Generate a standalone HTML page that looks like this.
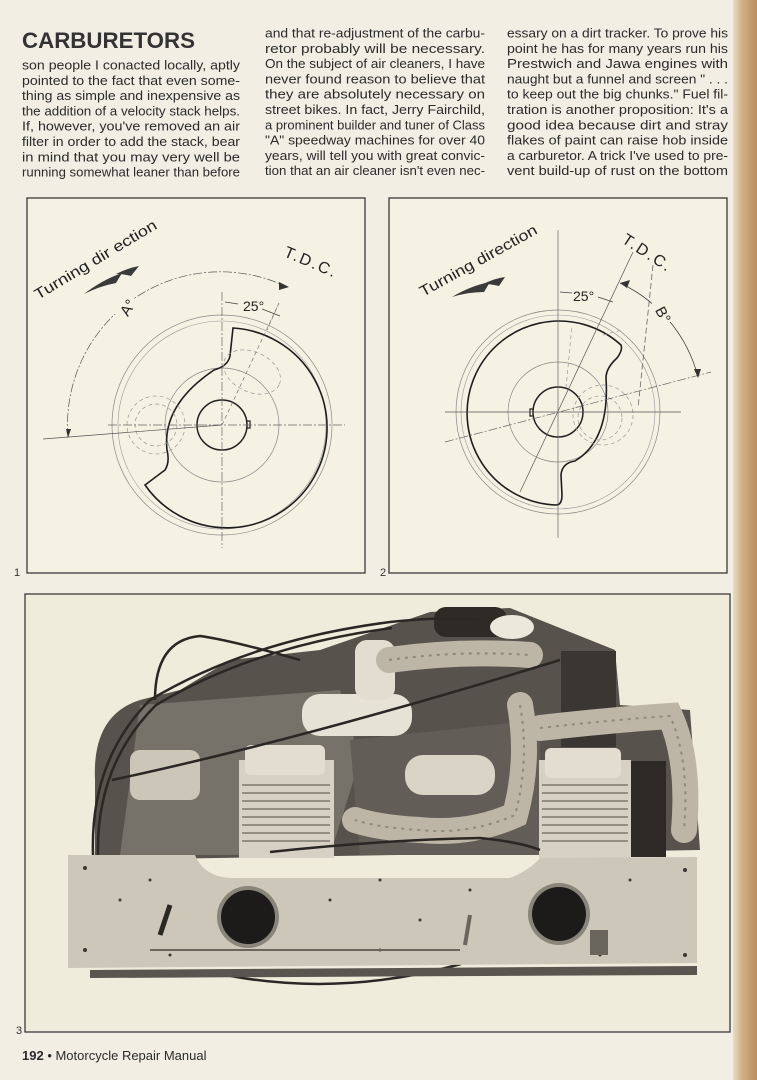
<!DOCTYPE html>
<html><head><meta charset="utf-8"><style>
html,body{margin:0;padding:0;background:#f2eee4;}
svg{display:block}
</style></head><body>
<svg width="757" height="1080" viewBox="0 0 757 1080" xmlns="http://www.w3.org/2000/svg" font-family="Liberation Sans, sans-serif">
<defs>
<linearGradient id="edge" x1="0" x2="1" y1="0" y2="0">
<stop offset="0" stop-color="#e9dcc4"/><stop offset="0.4" stop-color="#cfae85"/><stop offset="1" stop-color="#b98e60"/>
</linearGradient>
</defs>
<rect width="757" height="1080" fill="#f2eee4"/>
<rect x="733" y="0" width="24" height="1080" fill="url(#edge)"/>

<text x="22" y="48" font-size="22" font-weight="bold" fill="#333" textLength="173" lengthAdjust="spacingAndGlyphs">CARBURETORS</text>
<g font-size="12.5" fill="#2b2b2b">
<text x="22" y="69.5" textLength="218" lengthAdjust="spacingAndGlyphs">son people I conacted locally, aptly</text>
<text x="22" y="84.8" textLength="218" lengthAdjust="spacingAndGlyphs">pointed to the fact that even some-</text>
<text x="22" y="100.1" textLength="218" lengthAdjust="spacingAndGlyphs">thing as simple and inexpensive as</text>
<text x="22" y="115.4" textLength="218" lengthAdjust="spacingAndGlyphs">the addition of a velocity stack helps.</text>
<text x="22" y="130.7" textLength="218" lengthAdjust="spacingAndGlyphs">If, however, you've removed an air</text>
<text x="22" y="146" textLength="218" lengthAdjust="spacingAndGlyphs">filter in order to add the stack, bear</text>
<text x="22" y="161.3" textLength="218" lengthAdjust="spacingAndGlyphs">in mind that you may very well be</text>
<text x="22" y="176.6" textLength="218" lengthAdjust="spacingAndGlyphs">running somewhat leaner than before</text>

<text x="265" y="37.5" textLength="220" lengthAdjust="spacingAndGlyphs">and that re-adjustment of the carbu-</text>
<text x="265" y="52.8" textLength="220" lengthAdjust="spacingAndGlyphs">retor probably will be necessary.</text>
<text x="265" y="68.1" textLength="220" lengthAdjust="spacingAndGlyphs">On the subject of air cleaners, I have</text>
<text x="265" y="83.4" textLength="220" lengthAdjust="spacingAndGlyphs">never found reason to believe that</text>
<text x="265" y="98.7" textLength="220" lengthAdjust="spacingAndGlyphs">they are absolutely necessary on</text>
<text x="265" y="114" textLength="220" lengthAdjust="spacingAndGlyphs">street bikes. In fact, Jerry Fairchild,</text>
<text x="265" y="129.3" textLength="220" lengthAdjust="spacingAndGlyphs">a prominent builder and tuner of Class</text>
<text x="265" y="144.6" textLength="220" lengthAdjust="spacingAndGlyphs">"A" speedway machines for over 40</text>
<text x="265" y="159.9" textLength="220" lengthAdjust="spacingAndGlyphs">years, will tell you with great convic-</text>
<text x="265" y="175.2" textLength="220" lengthAdjust="spacingAndGlyphs">tion that an air cleaner isn't even nec-</text>

<text x="507" y="37.5" textLength="221" lengthAdjust="spacingAndGlyphs">essary on a dirt tracker. To prove his</text>
<text x="507" y="52.8" textLength="221" lengthAdjust="spacingAndGlyphs">point he has for many years run his</text>
<text x="507" y="68.1" textLength="221" lengthAdjust="spacingAndGlyphs">Prestwich and Jawa engines with</text>
<text x="507" y="83.4" textLength="221" lengthAdjust="spacingAndGlyphs">naught but a funnel and screen " . . .</text>
<text x="507" y="98.7" textLength="221" lengthAdjust="spacingAndGlyphs">to keep out the big chunks." Fuel fil-</text>
<text x="507" y="114" textLength="221" lengthAdjust="spacingAndGlyphs">tration is another proposition: It's a</text>
<text x="507" y="129.3" textLength="221" lengthAdjust="spacingAndGlyphs">good idea because dirt and stray</text>
<text x="507" y="144.6" textLength="221" lengthAdjust="spacingAndGlyphs">flakes of paint can raise hob inside</text>
<text x="507" y="159.9" textLength="221" lengthAdjust="spacingAndGlyphs">a carburetor. A trick I've used to pre-</text>
<text x="507" y="175.2" textLength="221" lengthAdjust="spacingAndGlyphs">vent build-up of rust on the bottom</text>
</g>

<!-- Figure 1 -->
<rect x="27" y="198" width="338" height="375" fill="#f5f1e3" stroke="#3a3a3a" stroke-width="1.3"/>
<text x="14" y="576" font-size="11" fill="#333">1</text>
<g fill="none">
<circle cx="222" cy="425" r="110" stroke="#888" stroke-width="0.7"/>
<circle cx="222" cy="425" r="104" stroke="#999" stroke-width="0.6"/>
<circle cx="222" cy="425" r="57" stroke="#888" stroke-width="0.7"/>
<circle cx="222" cy="425" r="25" stroke="#222" stroke-width="1.5"/>
<path d="M246 421 h4 v7 h-4" stroke="#222" stroke-width="1.2"/>
<path d="M233 328 A100 100 0 1 1 145 485 L165 470 Q170 462 167 450 Q162 405 214 370 Q228 366 230 356 L233 328 Z" stroke="#1e1e1e" stroke-width="1.6"/>
<circle cx="156" cy="425" r="21" stroke="#999" stroke-width="0.7" stroke-dasharray="4 3"/>
<circle cx="156" cy="425" r="29" stroke="#999" stroke-width="0.7" stroke-dasharray="4 3"/>
<ellipse cx="252" cy="372" rx="30" ry="20" transform="rotate(25 252 372)" stroke="#999" stroke-width="0.7" stroke-dasharray="4 3"/>
<path d="M108 425 H345" stroke="#666" stroke-width="0.7" stroke-dasharray="9 2 2 2"/>
<path d="M222 292 V548" stroke="#666" stroke-width="0.7" stroke-dasharray="9 2 2 2"/>
<path d="M43 439 L222 425" stroke="#555" stroke-width="0.7"/>
<path d="M68 437 A153 153 0 0 1 287 287" stroke="#555" stroke-width="0.7" stroke-dasharray="9 2 2 2"/>
<path d="M222 425 L279 303" stroke="#777" stroke-width="0.7" stroke-dasharray="4 3"/>
<path d="M279 303 L267 330" stroke="#777" stroke-width="0.7" stroke-dasharray="4 3"/>
<path d="M225 302 L238 304 M262 309 L280 316" stroke="#444" stroke-width="0.8"/>
</g>
<path d="M66 429 L68 438 L71 429 Z" fill="#333"/>
<path d="M279 282 L289 287 L279 290 Z" fill="#333"/>
<rect x="112" y="296" width="22" height="18" fill="#f5f1e3"/>
<text x="120" y="317" font-size="15" fill="#222" transform="rotate(-58 124 310)">A°</text>
<text x="243" y="311" font-size="14" fill="#222">25°</text>
<text x="38" y="300" font-size="15" fill="#222" transform="rotate(-31 38 300)" textLength="140" lengthAdjust="spacingAndGlyphs">Turning dir ection</text>
<path d="M84 294 Q102 280 122 273 L116 283 Q100 286 84 294 Z" fill="#3a3a3a"/>
<path d="M116 274 Q128 268 139 266 L131 276 Q124 274 116 274 Z" fill="#3a3a3a"/>
<text x="283" y="256" font-size="16" fill="#222" transform="rotate(23 283 256)" letter-spacing="2">T.D.C.</text>

<!-- Figure 2 -->
<rect x="389" y="198" width="338" height="375" fill="#f5f1e3" stroke="#3a3a3a" stroke-width="1.3"/>
<text x="380" y="576" font-size="11" fill="#333">2</text>
<g fill="none">
<circle cx="558" cy="412" r="102" stroke="#888" stroke-width="0.7"/>
<circle cx="558" cy="412" r="97" stroke="#999" stroke-width="0.6"/>
<circle cx="558" cy="412" r="50" stroke="#888" stroke-width="0.7"/>
<circle cx="558" cy="412" r="25" stroke="#222" stroke-width="1.5"/>
<path d="M534 409 h-4 v7 h4" stroke="#222" stroke-width="1.2"/>
<path d="M621 345 A92 92 0 1 0 556 505 Q562 505 562 495 L561 475 Q562 463 575 461 Q610 440 606 378 Q606 368 617 358 Q623 350 621 345 Z" stroke="#1e1e1e" stroke-width="1.6"/>
<circle cx="603" cy="415" r="30" stroke="#999" stroke-width="0.7" stroke-dasharray="4 3"/>
<circle cx="600" cy="418" r="22" stroke="#999" stroke-width="0.7" stroke-dasharray="4 3"/>
<path d="M566 388 L572 325 M603 335 L622 330" stroke="#999" stroke-width="0.7" stroke-dasharray="4 3"/>
<path d="M445 412 H681" stroke="#555" stroke-width="0.8"/>
<path d="M558 230 V538" stroke="#666" stroke-width="0.7"/>
<path d="M633 252 L520 492" stroke="#555" stroke-width="0.7"/>
<path d="M653 265 L638 408" stroke="#666" stroke-width="0.8" stroke-dasharray="6 3"/>
<path d="M445 442 L711 372" stroke="#666" stroke-width="0.7" stroke-dasharray="9 2 2 2"/>
<path d="M620 283 A143 143 0 0 1 698 377" stroke="#444" stroke-width="0.8"/>
<path d="M560 292 L572 293 M598 297 L613 302" stroke="#444" stroke-width="0.8"/>
</g>
<path d="M620 283 L630 280 L627 288 Z" fill="#333"/>
<path d="M694 369 L698 378 L701 369 Z" fill="#333"/>
<rect x="652" y="302" width="20" height="20" fill="#f5f1e3"/>
<text x="656" y="318" font-size="15" fill="#222" transform="rotate(62 662 313)">B°</text>
<text x="573" y="301" font-size="14" fill="#222">25°</text>
<text x="423" y="297" font-size="15" fill="#222" transform="rotate(-29 423 297)" textLength="132" lengthAdjust="spacingAndGlyphs">Turning direction</text>
<path d="M452 297 Q470 286 490 282 L484 292 Q468 292 452 297 Z" fill="#3a3a3a"/>
<path d="M483 284 Q496 278 505 277 L499 286 Q491 284 483 284 Z" fill="#3a3a3a"/>
<text x="621" y="242" font-size="16" fill="#222" transform="rotate(33 621 242)" letter-spacing="2">T.D.C.</text>

<!-- Photo -->
<rect x="25" y="594" width="705" height="438" fill="#f0ecdc" stroke="#3a3a3a" stroke-width="1.3"/>
<text x="16" y="1034" font-size="11" fill="#333">3</text>
<path d="M95 780 Q92 715 140 700 L180 690 L230 660 L320 650 L430 612 L510 608 L615 650 L620 705 L690 710 L700 850 L95 860 Z" fill="#57534c"/>
<path d="M140 705 L340 690 L360 760 L330 855 L120 855 Z" fill="#76726a"/>
<path d="M350 740 L540 720 L540 855 L360 855 Z" fill="#625e57"/>
<rect x="434" y="607" width="73" height="30" rx="12" fill="#2e2b27"/>
<rect x="561" y="651" width="55" height="96" fill="#3a3632"/>
<rect x="616" y="761" width="50" height="96" fill="#2c2926"/>
<rect x="302" y="694" width="110" height="42" rx="18" fill="#e6e2d5"/>
<rect x="355" y="640" width="40" height="60" rx="12" fill="#e2ddd0"/>
<ellipse cx="512" cy="627" rx="22" ry="12" fill="#ece8dc"/>
<rect x="405" y="755" width="90" height="40" rx="18" fill="#d9d4c6"/>
<rect x="130" y="750" width="70" height="50" rx="10" fill="#cbc6b8"/>
<g>
<rect x="239" y="760" width="95" height="98" fill="#d6d1c4"/>
<rect x="245" y="745" width="80" height="30" rx="6" fill="#e2ddd0"/>
<rect x="539" y="760" width="92" height="98" fill="#d6d1c4"/>
<rect x="545" y="748" width="76" height="30" rx="6" fill="#e2ddd0"/>
<g stroke="#6a665e" stroke-width="1.2">
<path d="M242 785H330M242 793H330M242 801H330M242 809H330M242 817H330M242 825H330M242 833H330M242 841H330"/>
<path d="M542 785H628M542 793H628M542 801H628M542 809H628M542 817H628M542 825H628M542 833H628M542 841H628"/>
</g>
</g>
<g fill="none" stroke="#bdb6a6" stroke-linecap="round" stroke-width="26">
<path d="M389 660 Q460 650 530 655"/>
<path d="M520 705 Q530 760 515 815 Q470 835 420 830 Q380 828 355 820"/>
<path d="M540 728 Q610 720 670 716 Q690 760 684 830"/>
</g>
<g fill="none" stroke="#8f897c" stroke-width="2" stroke-dasharray="3 5">
<path d="M389 660 Q460 650 530 655"/>
<path d="M520 705 Q530 760 515 815 Q470 835 420 830 Q380 828 355 820"/>
<path d="M540 728 Q610 720 670 716 Q690 760 684 830"/>
</g>
<g fill="none" stroke="#2a2724" stroke-width="2.5">
<path d="M93 855 Q90 760 150 700 Q250 640 390 622 Q450 616 480 620"/>
<path d="M98 855 Q96 765 156 705 Q255 646 392 628"/>
<path d="M155 700 Q155 640 200 636 Q230 640 300 660"/>
<path d="M112 780 Q300 740 560 660"/>
<path d="M207 971 Q330 1000 461 964"/>
<path d="M270 852 Q380 840 480 838 Q520 842 540 850"/>
</g>
<path d="M68 855 L195 855 Q205 880 240 878 L510 878 Q530 870 540 858 L697 857 L697 963 L68 968 Z" fill="#ccc7b9"/>
<path d="M90 970 L697 966 L697 975 L90 978 Z" fill="#5a564f"/>
<g fill="#3a3733">
<circle cx="85" cy="868" r="2"/><circle cx="85" cy="950" r="2"/><circle cx="120" cy="900" r="1.5"/>
<circle cx="150" cy="880" r="1.5"/><circle cx="330" cy="900" r="1.5"/><circle cx="380" cy="880" r="1.5"/>
<circle cx="420" cy="920" r="1.5"/><circle cx="470" cy="890" r="1.5"/><circle cx="630" cy="880" r="1.5"/>
<circle cx="685" cy="870" r="2"/><circle cx="685" cy="955" r="2"/><circle cx="600" cy="955" r="1.5"/>
<circle cx="380" cy="950" r="1.5"/><circle cx="170" cy="955" r="1.5"/>
</g>
<circle cx="248" cy="917" r="31" fill="#8a857a"/>
<circle cx="248" cy="917" r="27" fill="#1d1b19"/>
<circle cx="559" cy="914" r="31" fill="#8a857a"/>
<circle cx="559" cy="914" r="27" fill="#1d1b19"/>
<path d="M160 935 L170 905" stroke="#2a2724" stroke-width="5"/>
<path d="M465 945 L470 915" stroke="#6a665e" stroke-width="4"/>
<rect x="590" y="930" width="18" height="25" fill="#6a665e"/>
<path d="M150 950 L460 950" stroke="#6a665e" stroke-width="2"/>

<text x="22" y="1060" font-size="13" fill="#2b2b2b"><tspan font-weight="bold">192</tspan> • Motorcycle Repair Manual</text>
</svg>
</body></html>
